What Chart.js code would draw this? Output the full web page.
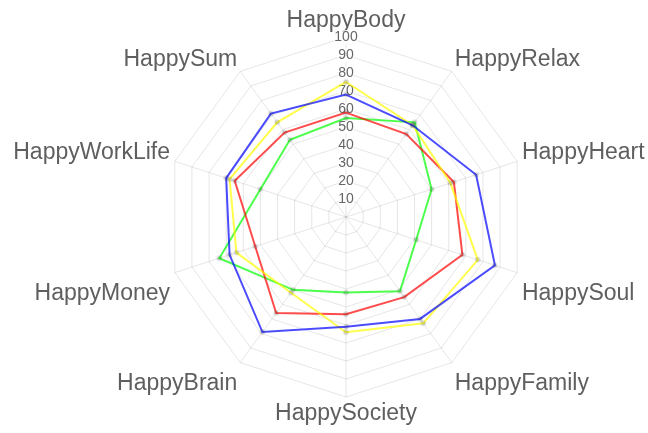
<!DOCTYPE html>
<html>
<head>
<meta charset="utf-8">
<script src="https://cdn.jsdelivr.net/npm/chart.js@4"></script>
<style>
  html, body { margin: 0; padding: 0; background: #fff; overflow: hidden; }
  /* a bit wider than the window: the right label may run to the edge */
  #wrap { width: 670px; height: 433px; }
</style>
</head>
<body>
<div id="wrap"><canvas id="happyChart"></canvas></div>
<script>
var labels = ['HappyBody', 'HappyRelax', 'HappyHeart', 'HappySoul', 'HappyFamily',
    'HappySociety', 'HappyBrain', 'HappyMoney', 'HappyWorkLife', 'HappySum'];
var blueValues   = [68, 63, 76, 87, 70, 61, 79, 68, 70, 71];
var yellowValues = [75, 63, 61, 77, 73, 64, 52, 64, 68, 65];
var redValues    = [58, 57, 63, 68, 55, 54, 66, 53, 65, 58];
var greenValues  = [55, 65, 50, 41, 51, 42, 50, 74, 50, 53];

function line(values, color) {
    return {
        data: values,
        fill: false,
        borderColor: color,
        borderWidth: 2,
        pointRadius: 2,
        pointBackgroundColor: 'rgba(0,0,0,0.1)',
        pointBorderColor: 'rgba(0,0,0,0.1)'
    };
}

// label box heights per spoke, nudges the side labels down a little
var labelBoxHeights = [23, 15, 15, 39, 33, 23, 33, 39, 15, 15];

var ctx = document.getElementById('happyChart');
new Chart(ctx, {
    type: 'radar',
    data: {
        labels: labels,
        datasets: [
            line(blueValues, 'rgba(0,0,255,0.7)'),
            line(yellowValues, 'rgba(255,255,0,0.7)'),
            line(redValues, 'rgba(255,0,0,0.7)'),
            line(greenValues, 'rgba(0,255,0,0.7)')
        ]
    },
    options: {
        responsive: true,
        maintainAspectRatio: false,
        animation: false,
        layout: { padding: { top: 9, bottom: 8, left: 2, right: 0 } },
        plugins: {
            legend: { display: false },
            tooltip: { enabled: false }
        },
        scales: {
            r: {
                min: 0,
                max: 100,
                ticks: {
                    stepSize: 10,
                    color: '#666',
                    font: { family: 'Arial, "Liberation Sans", sans-serif', size: 14 },
                    backdropPadding: 0,
                    backdropColor: 'rgba(255,255,255,0.75)'
                },
                grid: { color: 'rgba(0,0,0,0.1)' },
                angleLines: { color: 'rgba(0,0,0,0.1)' },
                pointLabels: {
                    color: '#5f5f5f',
                    padding: -2,
                    font: function(c) {
                        return {
                            family: 'Arial, "Liberation Sans", sans-serif',
                            size: 23,
                            lineHeight: labelBoxHeights[c.index] + 'px'
                        };
                    }
                }
            }
        }
    }
});
</script>
</body>
</html>
